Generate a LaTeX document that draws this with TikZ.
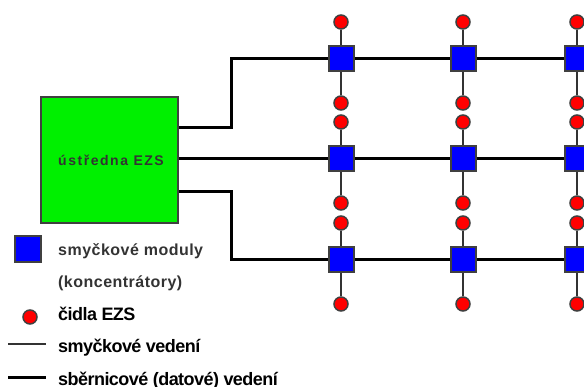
\documentclass[tikz,border=0pt]{standalone}
\usepackage{fontspec}
\setmainfont{Liberation Sans}
\newfontfamily\spacedfont[LetterSpace=3]{Liberation Sans}
\newfontfamily\widefont[LetterSpace=11]{Liberation Sans}
\newfontfamily\tightfont[LetterSpace=-3]{Liberation Sans}
\definecolor{ezsgreen}{RGB}{0,240,0}
\begin{document}
\begin{tikzpicture}[x=1pt, y=-1pt,
        modul/.style={rectangle, draw=black!75, line width=2pt, fill=blue, minimum size=25pt, inner sep=0pt},
        cidlo/.style={circle, draw=black!75, line width=1.5pt, fill=red, minimum size=14pt, inner sep=0pt},
        bus/.style={line width=3pt, black},
        smycka/.style={line width=1.6pt, black!80},
        legenda/.style={anchor=base west, inner sep=0pt, font=\bfseries}]
        \clip (0,0) rectangle (584,387);

        \node[rectangle, draw=black!75, line width=1.5pt, fill=ezsgreen, minimum width=137pt, minimum height=126pt] at (109.5, 160) (ustredna) {};
        \node[anchor=base west, inner sep=0pt, font=\widefont\bfseries\fontsize{14}{16}\selectfont, text=black!80] at (58, 166) (ustrednatext) {ústředna EZS};

        % smyčkové moduly
        \node[modul] at (341, 59) (m11) {};
        \node[modul] at (463, 59) (m12) {};
        \node[modul] at (577, 59) (m13) {};
        \node[modul] at (341, 159) (m21) {};
        \node[modul] at (463, 159) (m22) {};
        \node[modul] at (577, 159) (m23) {};
        \node[modul] at (341, 260) (m31) {};
        \node[modul] at (463, 260) (m32) {};
        \node[modul] at (577, 260) (m33) {};

        % čidla
        \node[cidlo] at (341, 22) (c11a) {};
        \node[cidlo] at (341, 103) (c11b) {};
        \node[cidlo] at (463, 22) (c12a) {};
        \node[cidlo] at (463, 103) (c12b) {};
        \node[cidlo] at (577, 22) (c13a) {};
        \node[cidlo] at (577, 103) (c13b) {};
        \node[cidlo] at (341, 122) (c21a) {};
        \node[cidlo] at (341, 203) (c21b) {};
        \node[cidlo] at (463, 122) (c22a) {};
        \node[cidlo] at (463, 203) (c22b) {};
        \node[cidlo] at (577, 122) (c23a) {};
        \node[cidlo] at (577, 203) (c23b) {};
        \node[cidlo] at (341, 223) (c31a) {};
        \node[cidlo] at (341, 304) (c31b) {};
        \node[cidlo] at (463, 223) (c32a) {};
        \node[cidlo] at (463, 304) (c32b) {};
        \node[cidlo] at (577, 223) (c33a) {};
        \node[cidlo] at (577, 304) (c33b) {};

        \draw[smycka] (c11a) -- (m11) -- (c11b);
        \draw[smycka] (c12a) -- (m12) -- (c12b);
        \draw[smycka] (c13a) -- (m13) -- (c13b);
        \draw[smycka] (c21a) -- (m21) -- (c21b);
        \draw[smycka] (c22a) -- (m22) -- (c22b);
        \draw[smycka] (c23a) -- (m23) -- (c23b);
        \draw[smycka] (c31a) -- (m31) -- (c31b);
        \draw[smycka] (c32a) -- (m32) -- (c32b);
        \draw[smycka] (c33a) -- (m33) -- (c33b);

        % sběrnice
        \draw[bus] ([yshift=32pt]ustredna.east) -- ++(53,0) |- (m11) -- (m12) -- (m13) -- ++(30,0);
        \draw[bus] ([yshift=1pt]ustredna.east) -- (m21) -- (m22) -- (m23) -- ++(30,0);
        \draw[bus] ([yshift=-32pt]ustredna.east) -- ++(53,0) |- (m31) -- (m32) -- (m33) -- ++(30,0);

        % legenda
        \node[modul, minimum size=26pt] at (28, 249) (lmodul) {};
        \node[legenda, font=\spacedfont\bfseries\fontsize{16}{18}\selectfont, text=black!80] at (58, 256) (lmodultext) {smyčkové moduly};
        \node[legenda, font=\spacedfont\bfseries\fontsize{16}{18}\selectfont, text=black!80] at (58, 288) (lmodultext2) {(koncentrátory)};
        \node[cidlo] at (30, 317) (lcidlo) {};
        \node[legenda, font=\tightfont\bfseries\fontsize{18}{20}\selectfont] at (58, 321) (lcidlotext) {čidla EZS};
        \coordinate (ls1) at (8, 344);
        \coordinate (ls2) at (46, 344);
        \draw[smycka, line width=1.2pt] (ls1) -- (ls2);
        \node[legenda, font=\tightfont\bfseries\fontsize{18}{20}\selectfont] at (58, 353) (lsmyckatext) {smyčkové vedení};
        \coordinate (lb1) at (8, 378);
        \coordinate (lb2) at (46, 378);
        \draw[bus] (lb1) -- (lb2);
        \node[legenda, font=\tightfont\bfseries\fontsize{18}{20}\selectfont] at (58, 386) (lbustext) {sběrnicové (datové) vedení};
\end{tikzpicture}
\end{document}
